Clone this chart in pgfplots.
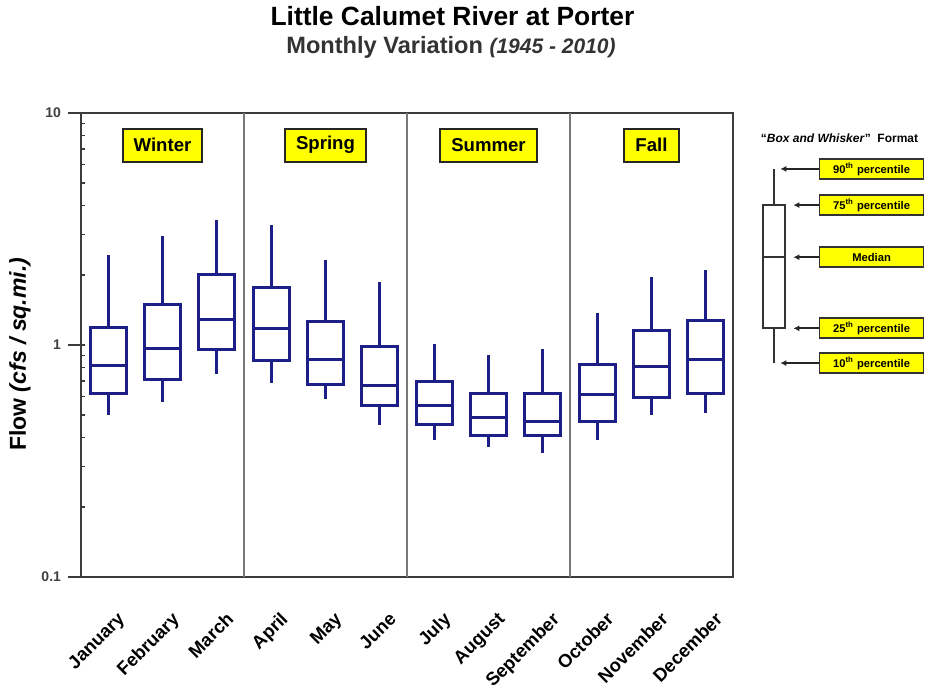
\documentclass[border=0pt]{standalone}
\usepackage{pgfplots}
\pgfplotsset{compat=1.18}
\usepgfplotslibrary{statistics}
\usetikzlibrary{arrows.meta}
\usepackage{fontspec}
\setmainfont{Liberation Sans}
\definecolor{boxblue}{RGB}{30,30,135}
\definecolor{frame}{RGB}{60,60,60}
\definecolor{sep}{RGB}{120,120,120}
\definecolor{lab}{RGB}{255,255,0}
\begin{document}
\begin{tikzpicture}
\begin{axis}[
  scale only axis, width=326pt, height=232pt,
  ymode=log, ymin=0.1, ymax=10,
  xmin=0.5, xmax=12.5,
  clip=false,
  axis line style={frame, line width=1pt},
  ytick={0.1,1,10}, yticklabels={0.1,1,10},
  /pgf/number format/assume math mode=true,
  yticklabel style={font=\bfseries\fontsize{7}{8}\selectfont, text=black!75},
  tick align=outside,
  ytick pos=left,
  major tick length=6.5pt, minor tick length=2pt,
  minor y tick style={xshift=2pt},
  tick style={frame, line width=0.8pt},
  xtick={1,...,12},
  xticklabels={January,February,March,April,May,June,July,August,September,October,November,December},
  xtick style={draw=none},
  xticklabel style={rotate=45, anchor=north east, font=\bfseries\fontsize{9.2}{11}\selectfont, xshift=-1.1pt, yshift=-6.9pt},
  ylabel={\bfseries Flow \textit{(cfs / sq.mi.)}},
  ylabel style={at={(axis description cs:-0.0936,0.48)}, anchor=center, font=\fontsize{11.5}{13}\selectfont},
  boxplot/draw direction=y,
  boxplot/box extend=0.66,
  boxplot/whisker extend=0,
]
% separators
\draw[sep, line width=1pt] (axis cs:3.5,0.1) -- (axis cs:3.5,10);
\draw[sep, line width=1pt] (axis cs:6.5,0.1) -- (axis cs:6.5,10);
\draw[sep, line width=1pt] (axis cs:9.5,0.1) -- (axis cs:9.5,10);

\pgfplotsset{mybox/.style={boxplot prepared={#1}, draw=boxblue, line width=1.5pt, solid}}
\addplot[mybox={draw position=1,  lower whisker=0.50, lower quartile=0.619, median=0.814, upper quartile=1.19, upper whisker=2.44}] coordinates {};
\addplot[mybox={draw position=2,  lower whisker=0.570, lower quartile=0.711, median=0.968, upper quartile=1.50, upper whisker=2.95}] coordinates {};
\addplot[mybox={draw position=3,  lower whisker=0.748, lower quartile=0.952, median=1.29, upper quartile=2.02, upper whisker=3.46}] coordinates {};
\addplot[mybox={draw position=4,  lower whisker=0.688, lower quartile=0.856, median=1.18, upper quartile=1.77, upper whisker=3.29}] coordinates {};
\addplot[mybox={draw position=5,  lower whisker=0.583, lower quartile=0.679, median=0.868, upper quartile=1.26, upper whisker=2.32}] coordinates {};
\addplot[mybox={draw position=6,  lower whisker=0.452, lower quartile=0.546, median=0.666, upper quartile=0.99, upper whisker=1.87}] coordinates {};
\addplot[mybox={draw position=7,  lower whisker=0.389, lower quartile=0.456, median=0.551, upper quartile=0.695, upper whisker=1.01}] coordinates {};
\addplot[mybox={draw position=8,  lower whisker=0.362, lower quartile=0.409, median=0.488, upper quartile=0.619, upper whisker=0.906}] coordinates {};
\addplot[mybox={draw position=9,  lower whisker=0.343, lower quartile=0.409, median=0.467, upper quartile=0.619, upper whisker=0.958}] coordinates {};
\addplot[mybox={draw position=10, lower whisker=0.389, lower quartile=0.467, median=0.609, upper quartile=0.826, upper whisker=1.38}] coordinates {};
\addplot[mybox={draw position=11, lower whisker=0.50, lower quartile=0.593, median=0.806, upper quartile=1.15, upper whisker=1.96}] coordinates {};
\addplot[mybox={draw position=12, lower whisker=0.511, lower quartile=0.619, median=0.862, upper quartile=1.27, upper whisker=2.11}] coordinates {};

% season labels
\tikzset{season/.style={fill=lab, draw=black!85, line width=1pt, font=\bfseries\fontsize{9.3}{11}\selectfont, inner xsep=5.5pt, minimum height=16.5pt}}
\node[season] at (axis cs:2,7.28) {Winter};
\node[season] at (axis cs:5,7.28) {Spring};
\node[season] at (axis cs:8,7.28) {Summer};
\node[season] at (axis cs:11,7.28) {Fall};

% legend box (format explanation)
\addplot[boxplot prepared={draw position=13.26, box extend=0.405, lower whisker=0.836, lower quartile=1.18, median=2.39, upper quartile=4.01, upper whisker=5.74}, draw=black!80, line width=1pt, solid] coordinates {};
\node[font=\bfseries\fontsize{6}{7}\selectfont] at (axis cs:14.46,7.8) {``\textit{Box and Whisker}''\ \ Format};
\tikzset{flab/.style={fill=lab, draw=black!80, line width=0.9pt, font=\bfseries\fontsize{5.6}{6.5}\selectfont, minimum width=52pt, minimum height=10pt, inner sep=1pt},
  farr/.style={black!85, line width=0.9pt, -{Latex[length=3pt,width=3pt]}}}
\node[flab] (n1) at (axis cs:15.05,5.74) {90\textsuperscript{th} percentile};
\node[flab] (n2) at (axis cs:15.05,4.01) {75\textsuperscript{th} percentile};
\node[flab] (n3) at (axis cs:15.05,2.39) {Median};
\node[flab] (n4) at (axis cs:15.05,1.18) {25\textsuperscript{th} percentile};
\node[flab] (n5) at (axis cs:15.05,0.836) {10\textsuperscript{th} percentile};
\draw[farr] (n1.west) -- (axis cs:13.37,5.74);
\draw[farr] (n2.west) -- (axis cs:13.61,4.01);
\draw[farr] (n3.west) -- (axis cs:13.61,2.39);
\draw[farr] (n4.west) -- (axis cs:13.61,1.18);
\draw[farr] (n5.west) -- (axis cs:13.37,0.836);
\end{axis}
\node[font=\bfseries\fontsize{13.2}{15}\selectfont] at (185.75pt,280.5pt) {Little Calumet River at Porter};
\node[font=\bfseries\fontsize{11.8}{14}\selectfont, text=black!80] at (185pt,265pt) {Monthly Variation \fontsize{10.5}{12}\selectfont\textit{(1945 - 2010)}};
\pgfresetboundingbox
\useasboundingbox (-40.5pt,-60.5pt) rectangle (422.5pt,288.5pt);
\end{tikzpicture}
\end{document}
